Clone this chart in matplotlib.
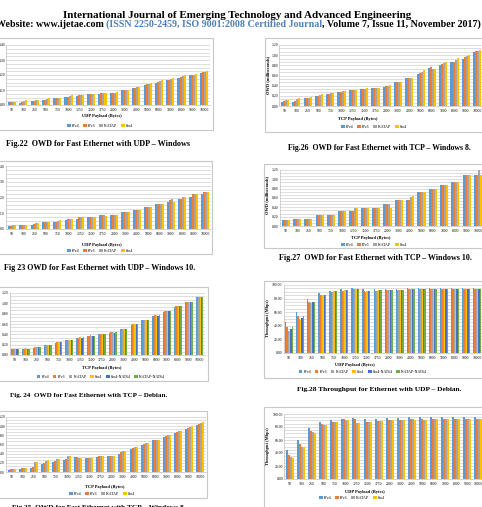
import matplotlib
matplotlib.use('Agg')
import matplotlib.pyplot as plt
from matplotlib.patches import Rectangle, Patch
from matplotlib.ticker import MultipleLocator
import numpy as np

W, H = 482, 507
payloads = ['50', '100', '250', '500', '750', '1000', '1250', '1500', '1750', '2000',
            '3000', '4000', '5000', '6000', '7000', '8000', '9000', '10000']
series4 = ['IPv4', 'IPv6', 'ISATAP', '6to4']
series6 = ['IPv4', 'IPv6', 'ISATAP', '6to4', '6to4-NAT64', 'ISATAP-NAT64']
colors = ['#5B9BD5', '#ED7D31', '#A5A5A5', '#FFC000', '#4472C4', '#70AD47']

# Fig.22 OWD UDP Windows (ms)
f22_ipv4 = [0.020, 0.016, 0.027, 0.034, 0.047, 0.054, 0.063, 0.072, 0.076, 0.080, 0.100, 0.112, 0.133, 0.150, 0.164, 0.180, 0.198, 0.213]
f22_ipv6 = [0.020, 0.022, 0.029, 0.036, 0.047, 0.056, 0.065, 0.072, 0.079, 0.083, 0.100, 0.115, 0.137, 0.153, 0.166, 0.185, 0.200, 0.218]
f22_isatap = [0.022, 0.025, 0.031, 0.038, 0.047, 0.060, 0.067, 0.074, 0.079, 0.083, 0.100, 0.117, 0.140, 0.157, 0.173, 0.191, 0.202, 0.220]
f22_6to4 = [0.022, 0.034, 0.034, 0.047, 0.047, 0.070, 0.070, 0.076, 0.083, 0.088, 0.099, 0.121, 0.146, 0.164, 0.180, 0.198, 0.204, 0.225]

# Fig 23 OWD UDP Windows 10
f23_ipv4 = [0.021, 0.026, 0.026, 0.045, 0.045, 0.057, 0.062, 0.077, 0.091, 0.091, 0.110, 0.123, 0.140, 0.160, 0.174, 0.189, 0.202, 0.223]
f23_ipv6 = [0.021, 0.026, 0.030, 0.045, 0.045, 0.062, 0.074, 0.077, 0.091, 0.091, 0.110, 0.123, 0.140, 0.160, 0.181, 0.189, 0.223, 0.236]
f23_isatap = [0.023, 0.026, 0.040, 0.045, 0.049, 0.064, 0.077, 0.077, 0.089, 0.091, 0.110, 0.123, 0.140, 0.160, 0.189, 0.206, 0.223, 0.236]
f23_6to4 = [0.026, 0.026, 0.040, 0.045, 0.057, 0.062, 0.074, 0.077, 0.083, 0.091, 0.108, 0.123, 0.140, 0.160, 0.172, 0.206, 0.223, 0.236]

# Fig. 24 OWD TCP Debian
f24_ipv4 = [0.112, 0.120, 0.145, 0.188, 0.240, 0.286, 0.332, 0.370, 0.404, 0.430, 0.500, 0.590, 0.674, 0.758, 0.836, 0.934, 1.018, 1.116]
f24_ipv6 = [0.116, 0.124, 0.150, 0.194, 0.246, 0.292, 0.338, 0.376, 0.410, 0.436, 0.506, 0.598, 0.682, 0.766, 0.844, 0.942, 1.026, 1.124]
f24_isatap = [0.118, 0.126, 0.152, 0.196, 0.248, 0.294, 0.340, 0.378, 0.412, 0.438, 0.508, 0.600, 0.684, 0.768, 0.848, 0.946, 1.030, 1.128]
f24_6to4 = [0.116, 0.125, 0.151, 0.195, 0.247, 0.293, 0.339, 0.377, 0.411, 0.437, 0.507, 0.599, 0.683, 0.767, 0.846, 0.944, 1.028, 1.126]
f24_6to4nat = [0.114, 0.122, 0.148, 0.192, 0.244, 0.290, 0.336, 0.374, 0.408, 0.434, 0.504, 0.596, 0.680, 0.764, 0.842, 0.940, 1.024, 1.122]
f24_isatapnat = [0.117, 0.125, 0.151, 0.195, 0.247, 0.293, 0.339, 0.377, 0.411, 0.437, 0.507, 0.599, 0.683, 0.767, 0.845, 0.943, 1.027, 1.125]

# Fig.25 OWD TCP Windows 8 (bottom left)
f25_ipv4 = [0.036, 0.066, 0.088, 0.182, 0.210, 0.270, 0.328, 0.312, 0.328, 0.350, 0.400, 0.510, 0.596, 0.690, 0.764, 0.858, 0.946, 1.032]
f25_ipv6 = [0.066, 0.080, 0.102, 0.190, 0.232, 0.276, 0.328, 0.312, 0.342, 0.350, 0.436, 0.524, 0.618, 0.706, 0.786, 0.866, 0.952, 1.048]
f25_isatap = [0.072, 0.088, 0.210, 0.240, 0.290, 0.342, 0.312, 0.312, 0.342, 0.350, 0.450, 0.538, 0.632, 0.706, 0.808, 0.888, 0.982, 1.070]
f25_6to4 = [0.072, 0.094, 0.210, 0.254, 0.290, 0.356, 0.306, 0.312, 0.342, 0.350, 0.458, 0.546, 0.640, 0.706, 0.814, 0.902, 0.996, 1.084]

# Fig.26 OWD TCP Windows 8
f26_ipv4 = [0.086, 0.078, 0.158, 0.196, 0.236, 0.268, 0.308, 0.328, 0.354, 0.374, 0.466, 0.544, 0.630, 0.748, 0.806, 0.860, 0.932, 1.056]
f26_ipv6 = [0.098, 0.092, 0.164, 0.204, 0.242, 0.276, 0.314, 0.334, 0.354, 0.386, 0.472, 0.550, 0.642, 0.768, 0.820, 0.866, 0.970, 1.076]
f26_isatap = [0.112, 0.144, 0.164, 0.216, 0.250, 0.288, 0.314, 0.340, 0.354, 0.400, 0.472, 0.550, 0.676, 0.734, 0.840, 0.904, 0.990, 1.088]
f26_6to4 = [0.118, 0.150, 0.170, 0.236, 0.256, 0.302, 0.322, 0.348, 0.354, 0.406, 0.472, 0.550, 0.708, 0.728, 0.866, 0.938, 1.010, 1.102]

# Fig.27 OWD TCP Windows 10
f27_ipv4 = [0.122, 0.158, 0.158, 0.244, 0.244, 0.316, 0.316, 0.396, 0.396, 0.482, 0.554, 0.554, 0.720, 0.784, 0.878, 0.950, 1.094, 1.094]
f27_ipv6 = [0.122, 0.158, 0.158, 0.244, 0.244, 0.316, 0.316, 0.396, 0.396, 0.482, 0.554, 0.554, 0.720, 0.784, 0.878, 0.950, 1.094, 1.094]
f27_isatap = [0.130, 0.158, 0.158, 0.244, 0.244, 0.316, 0.396, 0.396, 0.396, 0.482, 0.554, 0.626, 0.720, 0.784, 0.878, 0.950, 1.094, 1.200]
f27_6to4 = [0.130, 0.158, 0.158, 0.244, 0.244, 0.316, 0.396, 0.396, 0.396, 0.396, 0.554, 0.640, 0.720, 0.784, 0.878, 0.950, 1.094, 1.094]

# Fig.28 Throughput UDP Debian (Mbps)
f28_ipv4 = [45.0, 60.0, 79.0, 88.0, 91.7, 93.7, 95.0, 93.7, 94.0, 94.6, 94.6, 95.0, 95.0, 95.0, 95.0, 95.0, 95.0, 95.0]
f28_ipv6 = [38.0, 53.7, 75.6, 86.0, 89.8, 91.7, 93.7, 90.7, 91.7, 92.5, 92.5, 93.7, 93.5, 93.5, 93.7, 93.5, 93.5, 93.5]
f28_isatap = [33.0, 50.0, 73.0, 85.0, 89.8, 91.7, 94.0, 89.8, 91.7, 92.7, 92.7, 94.0, 93.5, 93.5, 93.7, 93.5, 93.5, 93.5]
f28_6to4 = [33.0, 49.0, 73.0, 85.0, 90.5, 92.0, 94.0, 90.5, 92.0, 92.7, 92.7, 94.0, 94.0, 94.0, 94.0, 94.0, 94.0, 94.0]
f28_6to4nat = [36.0, 52.0, 75.6, 86.0, 90.5, 92.0, 94.0, 90.5, 92.0, 92.7, 92.7, 94.0, 94.0, 94.0, 94.0, 94.0, 94.0, 94.0]
f28_isatapnat = [38.0, 54.6, 75.6, 86.0, 90.5, 92.5, 94.0, 90.5, 92.0, 92.7, 92.7, 94.0, 94.0, 94.0, 94.0, 94.0, 94.0, 94.0]

# Fig.29 Throughput UDP Windows
f29_ipv4 = [43.9, 60.2, 79.0, 87.8, 90.8, 92.9, 93.4, 92.3, 92.3, 93.4, 93.4, 94.9, 94.9, 94.9, 94.9, 94.9, 94.9, 94.9]
f29_ipv6 = [36.7, 53.6, 74.5, 84.2, 87.8, 91.8, 91.8, 88.3, 89.8, 90.8, 90.8, 91.8, 92.9, 92.9, 92.9, 92.9, 92.9, 92.9]
f29_isatap = [33.7, 49.0, 72.4, 83.2, 87.8, 90.8, 85.7, 88.3, 89.3, 90.8, 90.8, 91.8, 90.8, 92.9, 92.9, 92.9, 91.8, 91.8]
f29_6to4 = [32.7, 49.0, 70.4, 83.7, 87.8, 90.8, 85.7, 88.3, 89.3, 90.8, 90.8, 90.8, 90.8, 92.9, 92.9, 92.9, 91.8, 91.8]

SERIF = 'Liberation Serif'
fig = plt.figure(figsize=(4.82, 5.07), dpi=100)
fig.patch.set_facecolor('white')
renderer = fig.canvas.get_renderer()


def fx(x):
    return x / W


def fy(y):
    return 1 - y / H


def twidth(s, size, **kw):
    t = fig.text(0, 0, s, fontsize=size, **kw)
    w = t.get_window_extent(renderer).width
    t.remove()
    return w


def fitted(s, x0, x1, y, **kw):
    w = twidth(s, 10, **kw)
    size = 10 * (x1 - x0) / w
    fig.text(fx((x0 + x1) / 2), fy(y), s, fontsize=size, ha='center', va='center', **kw)


def border(x0, y0, x1, y1):
    fig.patches.append(Rectangle((fx(x0), fy(y1)), fx(x1) - fx(x0), fy(y0) - fy(y1),
                                 transform=fig.transFigure, fill=False,
                                 edgecolor='#C8C8C8', lw=0.8, clip_on=False))


def panel(box, data, names, ymax, major, nminor, xlabel, xlab_pos, leg_pos,
          ylabel=None, ylab_pos=None, gw=0.72):
    l, t, r, b = box
    ax = fig.add_axes([fx(l), fy(b), fx(r) - fx(l), fy(t) - fy(b)])
    n = len(data)
    x = np.arange(len(payloads))
    bw = gw / n
    handles = []
    for i, vals in enumerate(data):
        ax.bar(x - gw / 2 + bw * (i + 0.5), vals, width=bw, color=colors[i],
               edgecolor='none', zorder=3)
        handles.append(Patch(facecolor=colors[i], edgecolor='none'))
    ax.set_xlim(-0.5, len(payloads) - 0.5)
    ax.set_ylim(0, ymax)
    ax.yaxis.set_major_locator(MultipleLocator(major))
    ax.yaxis.set_minor_locator(MultipleLocator(major / nminor))
    ax.yaxis.set_major_formatter(matplotlib.ticker.FormatStrFormatter('%.2f'))
    ax.grid(axis='y', which='both', color='#D0D0D0', lw=0.5, zorder=0)
    ax.set_axisbelow(True)
    ax.set_xticks(x)
    ax.set_xticklabels(payloads)
    ax.tick_params(axis='both', which='both', length=0, labelsize=2.7)
    ax.tick_params(axis='x', pad=2.0)
    ax.tick_params(axis='y', pad=1.0)
    for lab in ax.get_xticklabels() + ax.get_yticklabels():
        lab.set_fontfamily(SERIF)
    for s in ['top', 'right']:
        ax.spines[s].set_visible(False)
    for s in ['left', 'bottom']:
        ax.spines[s].set_color('#BFBFBF')
        ax.spines[s].set_linewidth(0.5)
    ax.set_facecolor('none')
    fig.text(fx(xlab_pos[0]), fy(xlab_pos[1]), xlabel, fontsize=3.2, fontfamily=SERIF,
             fontweight='bold', ha='center', va='center')
    fig.legend(handles, names, loc='center', bbox_to_anchor=(fx(leg_pos[0]), fy(leg_pos[1])),
               ncol=n, frameon=False, handlelength=0.9, handleheight=0.9,
               columnspacing=0.9, handletextpad=0.3, borderpad=0, prop={'family': SERIF, 'size': 2.9})
    if ylabel:
        fig.text(fx(ylab_pos[0]), fy(ylab_pos[1]), ylabel, fontsize=3.2, fontfamily=SERIF,
                 fontweight='bold', rotation=90, ha='center', va='center')
    return ax


# chart borders
border(-5, 38, 213, 130)
border(-5, 161, 212, 254)
border(-5, 287, 208, 381)
border(-5, 411, 207, 498)
border(265, 38, 495, 132)
border(264, 164, 495, 248)
border(264, 281, 495, 378)
border(264, 407, 495, 515)

panel((6.4, 45, 209.8, 105), [f22_ipv4, f22_ipv6, f22_isatap, f22_6to4], series4,
      0.4, 0.1, 4, 'UDP Payload (Bytes)', (102, 116), (100, 126))
panel((6.3, 166, 210.6, 229), [f23_ipv4, f23_ipv6, f23_isatap, f23_6to4], series4,
      0.4, 0.1, 4, 'UDP Payload (Bytes)', (102, 245), (100, 251))
panel((9.6, 293, 205, 355), [f24_ipv4, f24_ipv6, f24_isatap, f24_6to4, f24_6to4nat, f24_isatapnat],
      series6, 1.2, 0.2, 3, 'TCP Payload (Bytes)', (102, 368), (101, 377))
panel((6.2, 417, 205.5, 472), [f25_ipv4, f25_ipv6, f25_isatap, f25_6to4], series4,
      1.2, 0.2, 3, 'TCP Payload (Bytes)', (105, 487), (102, 494))
panel((279.4, 45, 482.8, 106), [f26_ipv4, f26_ipv6, f26_isatap, f26_6to4], series4,
      1.2, 0.2, 3, 'TCP Payload (Bytes)', (358, 119), (374, 127),
      'OWD (milliseconds)', (268, 75))
panel((280, 170, 483.7, 226), [f27_ipv4, f27_ipv6, f27_isatap, f27_6to4], series4,
      1.2, 0.2, 3, 'TCP Payload (Bytes)', (371, 238), (374, 245),
      'OWD (milliseconds)', (267.5, 195))
panel((283.5, 285, 482.6, 353), [f28_ipv4, f28_ipv6, f28_isatap, f28_6to4, f28_6to4nat, f28_isatapnat],
      series6, 100, 20, 4, 'UDP Payload (Bytes)', (355, 365), (363, 372),
      'Throughput (Mbps)', (268, 318))
panel((284.4, 414, 484, 479), [f29_ipv4, f29_ipv6, f29_isatap, f29_6to4], series4,
      100, 20, 4, 'UDP Payload (Bytes)', (365, 492), (352, 498),
      'Throughput (Mbps)', (268.5, 446))

# header
hdr = dict(fontfamily=SERIF, fontweight='bold')
fitted('International Journal of Emerging Technology and Advanced Engineering', 62, 412, 15.5, **hdr)
segs = [('Website: www.ijetae.com', 'black', 0.0),
        ('(ISSN 2250-2459, ISO 9001:2008 Certified Journal', '#4F81BD', 1.0),
        (', Volume 7, Issue 11, November 2017)', 'black', 0.0)]
sp = twidth('a a', 10, **hdr) - twidth('aa', 10, **hdr)
widths = [twidth(s, 10, **hdr) for s, c, g in segs]
total = sum(widths) + sp
x0, x1 = -4, 480
scale = (x1 - x0) / total
size = 10 * scale
cur = x0
for (s, c, g), w in zip(segs, widths):
    cur += g * sp * scale
    fig.text(fx(cur), fy(24.5), s, color=c, fontsize=size, ha='left', va='center', **hdr)
    cur += w * scale

# captions
cap = dict(fontfamily=SERIF, fontweight='bold')
fitted('Fig.22  OWD for Fast Ethernet with UDP \u2013 Windows', 7, 190, 144, **cap)
fitted('Fig 23 OWD for Fast Ethernet with UDP \u2013 Windows 10.', 4, 195, 268, **cap)
fitted('Fig. 24  OWD for Fast Ethernet with TCP \u2013 Debian.', 10, 168, 395, **cap)
fitted('Fig.25  OWD for Fast Ethernet with TCP \u2013 Windows 8.', 12, 185, 507, **cap)
fitted('Fig.26  OWD for Fast Ethernet with TCP \u2013 Windows 8.', 288, 470, 148, **cap)
fitted('Fig.27  OWD for Fast Ethernet with TCP \u2013 Windows 10.', 278, 472, 258, **cap)
fitted('Fig.28 Throughput for Ethernet with UDP \u2013 Debian.', 297, 462, 390, **cap)

fig.savefig('out.png', dpi=100, facecolor='white')
